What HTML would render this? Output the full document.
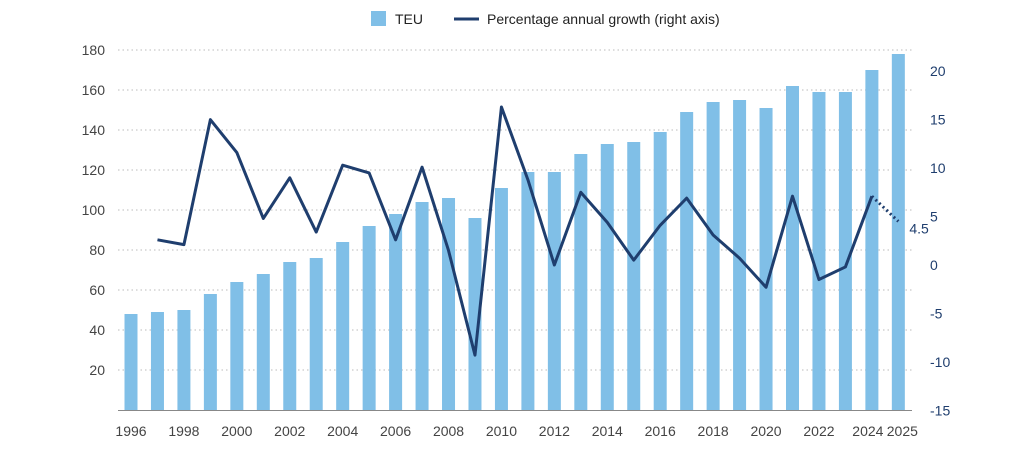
<!DOCTYPE html>
<html><head><meta charset="utf-8"><style>
body{margin:0;background:#fff;}
svg{display:block;font-family:"Liberation Sans",Arial,sans-serif;}
</style></head><body>
<svg id="c" width="1014" height="452"></svg>
<script>
const years=[1996,1997,1998,1999,2000,2001,2002,2003,2004,2005,2006,2007,2008,2009,2010,2011,2012,2013,2014,2015,2016,2017,2018,2019,2020,2021,2022,2023,2024,2025];
const teu=[48,49,50,58,64,68,74,76,84,92,98,104,106,96,111,119,119,128,133,134,139,149,154,155,151,162,159,159,170,178];
const growth=[null,2.6,2.1,15,11.6,4.8,9,3.4,10.3,9.5,2.6,10.1,1.5,-9.3,16.3,8.8,0,7.5,4.4,0.5,4.1,6.9,3.1,0.7,-2.3,7.1,-1.5,-0.2,7.1,4.5];
const leftTicks=[20,40,60,80,100,120,140,160,180];
const rightTicks=[20,15,10,5,0,-5,-10,-15];
const xLabels=[1996,1998,2000,2002,2004,2006,2008,2010,2012,2014,2016,2018,2020,2022,2024,2025];
const NS="http://www.w3.org/2000/svg";
const svg=document.getElementById('c');
const x=yr=>131+(yr-1996)*26.46;
const yL=v=>410-v*2;
const yR=v=>265-v*9.69;
function el(t,a,p){const e=document.createElementNS(NS,t);for(const k in a)e.setAttribute(k,a[k]);(p||svg).appendChild(e);return e;}
leftTicks.forEach(v=>{
 const g=el('line',{x1:118,x2:912,y1:yL(v),y2:yL(v),stroke:'#bbb','stroke-dasharray':'1.5,3','stroke-width':1});
 
 
 const t=el('text',{x:105,y:yL(v)+5,'text-anchor':'end','font-size':14,fill:'#444'});t.textContent=v;
 
 
});
rightTicks.forEach(v=>{
 const t=el('text',{x:930,y:yR(v)+5,'font-size':14,fill:'#1f3e6e'});t.textContent=v;
 
 
});
years.forEach((yr,i)=>{
 const b=el('rect',{x:x(yr)-6.5,y:yL(teu[i]),width:13,height:410-yL(teu[i]),fill:'#80bfe7'});
 
 
});
const ax=el('line',{x1:118,x2:912,y1:410.5,y2:410.5,stroke:'#888','stroke-width':1});


xLabels.forEach(yr=>{
 const t=el('text',{x:x(yr)+(yr===2024?-4:yr===2025?4:0),y:436,'text-anchor':'middle','font-size':14,fill:'#444'});t.textContent=yr;
 
 
});
let pts=[];
for(let i=0;i<years.length-1;i++){if(growth[i]!==null)pts.push(x(years[i])+','+yR(growth[i]));}
const ln=el('polyline',{points:pts.join(' '),fill:'none',stroke:'#1f3e6e','stroke-width':3,'stroke-linejoin':'round'});


const n=years.length-1;
const dl=el('line',{x1:x(years[n-1]),y1:yR(growth[n-1]),x2:x(years[n]),y2:yR(growth[n]),stroke:'#1f3e6e','stroke-width':3,'stroke-dasharray':'2,3'});


const fl=el('text',{x:x(years[n])+11,y:yR(growth[n])+12,'font-size':14,fill:'#1f3e6e'});fl.textContent=growth[n];


const lg=el('g',{});


el('rect',{x:371,y:11,width:15,height:15,fill:'#80bfe7'},lg);
const t1=el('text',{x:395,y:24,'font-size':14,fill:'#222'},lg);t1.textContent='TEU';


el('line',{x1:454,x2:479,y1:19,y2:19,stroke:'#1f3e6e','stroke-width':3},lg);
const t2=el('text',{x:487,y:24,'font-size':14,fill:'#222'},lg);t2.textContent='Percentage annual growth (right axis)';


</script>
</body></html>
